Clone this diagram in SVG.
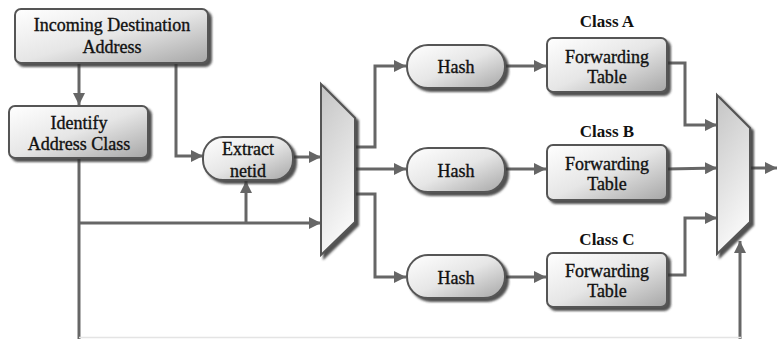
<svg xmlns="http://www.w3.org/2000/svg" width="777" height="339" viewBox="0 0 777 339">
<defs>
<linearGradient id="boxGrad" x1="0" y1="0" x2="1" y2="1">
<stop offset="0" stop-color="#ffffff"/>
<stop offset="0.5" stop-color="#e6e6e6"/>
<stop offset="1" stop-color="#a6a6a6"/>
</linearGradient>
<linearGradient id="muxGrad" x1="0" y1="0" x2="0.3" y2="1">
<stop offset="0" stop-color="#c4c4c4"/>
<stop offset="1" stop-color="#f8f8f8"/>
</linearGradient>
<filter id="shadow" x="-20%" y="-20%" width="150%" height="150%">
<feDropShadow dx="3" dy="3" stdDeviation="1.2" flood-color="#333333" flood-opacity="0.85"/>
</filter>
<marker id="arrow" markerUnits="userSpaceOnUse" markerWidth="14" markerHeight="12" refX="12" refY="6" orient="auto">
<path d="M0,0 L12,6 L0,12 Z" fill="#666666"/>
</marker>
</defs>
<style>
.box{fill:url(#boxGrad);stroke:#555555;stroke-width:2;filter:url(#shadow);}
.mux{fill:url(#muxGrad);stroke:#555555;stroke-width:2;filter:url(#shadow);}
.conn{fill:none;stroke:#666666;stroke-width:3;}
.arr{marker-end:url(#arrow);}
.lbl{font-family:"Liberation Serif","DejaVu Serif",serif;font-size:18px;fill:#111111;stroke:#111111;stroke-width:0.35;text-anchor:middle;}
.cls{font-family:"Liberation Serif","DejaVu Serif",serif;font-size:17px;font-weight:bold;fill:#111111;text-anchor:middle;}
</style>
<rect width="777" height="339" fill="#ffffff"/>

<g id="connectors">
<line class="conn arr" x1="79" y1="63" x2="79" y2="105"/>
<polyline class="conn arr" points="176,63 176,156 203,156"/>
<line class="conn arr" x1="294" y1="157" x2="321" y2="157"/>
<line class="conn" x1="79" y1="158" x2="79" y2="339"/>
<line class="conn arr" x1="79" y1="223" x2="321" y2="223"/>
<line class="conn arr" x1="246" y1="223" x2="246" y2="181"/>
<polyline class="conn arr" points="355,147 375,147 375,66 406,66"/>
<line class="conn arr" x1="355" y1="169" x2="406" y2="169"/>
<polyline class="conn arr" points="355,194 375,194 375,277 406,277"/>
<line class="conn arr" x1="505" y1="66" x2="546" y2="66"/>
<line class="conn arr" x1="505" y1="169" x2="546" y2="169"/>
<line class="conn arr" x1="505" y1="277" x2="546" y2="277"/>
<polyline class="conn arr" points="667,63 685,63 685,125 717,125"/>
<line class="conn arr" x1="667" y1="169" x2="717" y2="168"/>
<polyline class="conn arr" points="667,275 685,275 685,218 717,218"/>
<line class="conn arr" x1="750" y1="168" x2="777" y2="168"/>
<line class="conn arr" x1="740" y1="339" x2="740" y2="241"/>
<line x1="79" y1="337.5" x2="741" y2="337.5" stroke="#e4e4e4" stroke-width="1.5"/>
</g>

<g id="incoming">
<rect class="box" x="15" y="9" width="193" height="54" rx="6"/>
<text class="lbl" x="112" y="31">Incoming Destination</text>
<text class="lbl" x="112" y="53">Address</text>
</g>

<g id="identify">
<rect class="box" x="9" y="106" width="139" height="52" rx="6"/>
<text class="lbl" x="79" y="129">Identify</text>
<text class="lbl" x="79" y="150">Address Class</text>
</g>

<g id="extract">
<rect class="box" x="203" y="137" width="90" height="43" rx="20"/>
<text class="lbl" x="248" y="155">Extract</text>
<text class="lbl" x="248" y="177">netid</text>
</g>

<g id="mux1">
<polygon class="mux" points="321,84 355,118 355,222 321,255"/>
</g>

<g id="hashA">
<rect class="box" x="407" y="45" width="98" height="43" rx="21"/>
<text class="lbl" x="456" y="73">Hash</text>
</g>
<g id="hashB">
<rect class="box" x="407" y="148" width="98" height="44" rx="21"/>
<text class="lbl" x="456" y="177">Hash</text>
</g>
<g id="hashC">
<rect class="box" x="407" y="255" width="98" height="43" rx="21"/>
<text class="lbl" x="456" y="284">Hash</text>
</g>

<g id="tableA">
<text class="cls" x="607" y="27">Class A</text>
<rect class="box" x="547" y="38" width="120" height="54" rx="6"/>
<text class="lbl" x="607" y="63">Forwarding</text>
<text class="lbl" x="607" y="83">Table</text>
</g>
<g id="tableB">
<text class="cls" x="607" y="137">Class B</text>
<rect class="box" x="547" y="145" width="120" height="55" rx="6"/>
<text class="lbl" x="607" y="170">Forwarding</text>
<text class="lbl" x="607" y="190">Table</text>
</g>
<g id="tableC">
<text class="cls" x="607" y="245">Class C</text>
<rect class="box" x="547" y="253" width="120" height="54" rx="6"/>
<text class="lbl" x="607" y="277">Forwarding</text>
<text class="lbl" x="607" y="297">Table</text>
</g>

<g id="mux2">
<polygon class="mux" points="717,95 750,128 750,222 717,254"/>
</g>
</svg>
